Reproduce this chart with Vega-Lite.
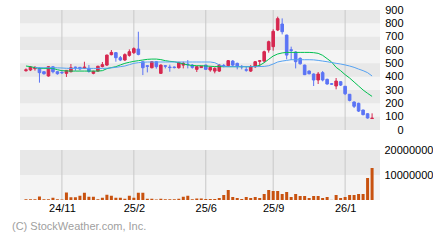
{
  "$schema": "https://vega.github.io/schema/vega-lite/v6.json",
  "background": "#ffffff",
  "padding": {"left": 12, "top": 4, "right": 0, "bottom": 0},
  "spacing": 20,
  "bounds": "flush",
  "config": {
    "view": {"stroke": null, "fill": "#f4f4f4"},
    "font": "Liberation Sans",
    "axis": {"labelFont": "Liberation Sans", "labelFontSize": 11, "labelColor": "#000000", "domain": false, "ticks": false, "tickSize": 0, "grid": false, "labelOverlap": false}
  },
  "title": {"text": "(C) StockWeather.com, Inc.", "orient": "bottom", "anchor": "start", "frame": "group", "dx": -8, "offset": 8, "fontSize": 11, "fontWeight": "normal", "color": "#a0a0a0", "font": "Liberation Sans"},
  "datasets": {
    "bandsP": [{"lo": 0, "hi": 100}, {"lo": 200, "hi": 300}, {"lo": 400, "hi": 500}, {"lo": 600, "hi": 700}, {"lo": 800, "hi": 900}],
    "bandsV": [{"lo": 10000000, "hi": 20000000}],
    "ticks": [{"d": "2024-11-01"}, {"d": "2025-02-21"}, {"d": "2025-06-13"}, {"d": "2025-09-26"}, {"d": "2026-01-16"}],
    "px": [
      {"d": "2024-09-06", "o": 445, "h": 462, "l": 437, "c": 452, "v": 300000, "m1": 480, "m2": null},
      {"d": "2024-09-13", "o": 450, "h": 480, "l": 442, "c": 472, "v": 300000, "m1": 475, "m2": null},
      {"d": "2024-09-20", "o": 460, "h": 480, "l": 445, "c": 468, "v": 300000, "m1": 468, "m2": 467},
      {"d": "2024-09-27", "o": 462, "h": 470, "l": 355, "c": 430, "v": 1400000, "m1": 463, "m2": 467},
      {"d": "2024-10-04", "o": 437, "h": 440, "l": 415, "c": 422, "v": 300000, "m1": 462, "m2": 467},
      {"d": "2024-10-11", "o": 405, "h": 478, "l": 400, "c": 475, "v": 300000, "m1": 462, "m2": 467},
      {"d": "2024-10-18", "o": 474, "h": 478, "l": 425, "c": 437, "v": 900000, "m1": 462, "m2": 467},
      {"d": "2024-10-25", "o": 437, "h": 440, "l": 415, "c": 422, "v": 300000, "m1": 452, "m2": 466},
      {"d": "2024-11-01", "o": 432, "h": 440, "l": 420, "c": 428, "v": 200000, "m1": 445, "m2": 465},
      {"d": "2024-11-08", "o": 425, "h": 450, "l": 398, "c": 447, "v": 3000000, "m1": 443, "m2": 463},
      {"d": "2024-11-15", "o": 437, "h": 495, "l": 432, "c": 467, "v": 1100000, "m1": 442, "m2": 462},
      {"d": "2024-11-22", "o": 472, "h": 475, "l": 445, "c": 468, "v": 1100000, "m1": 442, "m2": 462},
      {"d": "2024-11-29", "o": 470, "h": 472, "l": 448, "c": 458, "v": 1700000, "m1": 442, "m2": 462},
      {"d": "2024-12-06", "o": 463, "h": 512, "l": 458, "c": 472, "v": 2900000, "m1": 442, "m2": 462},
      {"d": "2024-12-13", "o": 462, "h": 487, "l": 430, "c": 440, "v": 1300000, "m1": 442, "m2": 462},
      {"d": "2024-12-20", "o": 425, "h": 445, "l": 418, "c": 440, "v": 1300000, "m1": 442, "m2": 462},
      {"d": "2024-12-27", "o": 442, "h": 482, "l": 438, "c": 478, "v": 300000, "m1": 442, "m2": 462},
      {"d": "2025-01-03", "o": 476, "h": 510, "l": 470, "c": 490, "v": 900000, "m1": 445, "m2": 462},
      {"d": "2025-01-10", "o": 487, "h": 565, "l": 480, "c": 562, "v": 2100000, "m1": 460, "m2": 463},
      {"d": "2025-01-17", "o": 565, "h": 600, "l": 560, "c": 582, "v": 1700000, "m1": 468, "m2": 466},
      {"d": "2025-01-24", "o": 580, "h": 585, "l": 512, "c": 542, "v": 900000, "m1": 475, "m2": 470},
      {"d": "2025-01-31", "o": 542, "h": 555, "l": 517, "c": 525, "v": 900000, "m1": 488, "m2": 475},
      {"d": "2025-02-07", "o": 525, "h": 575, "l": 517, "c": 565, "v": 500000, "m1": 500, "m2": 480},
      {"d": "2025-02-14", "o": 560, "h": 605, "l": 550, "c": 587, "v": 1700000, "m1": 508, "m2": 490},
      {"d": "2025-02-21", "o": 580, "h": 620, "l": 570, "c": 610, "v": 900000, "m1": 515, "m2": 500},
      {"d": "2025-02-28", "o": 607, "h": 737, "l": 560, "c": 567, "v": 2900000, "m1": 520, "m2": 505},
      {"d": "2025-03-07", "o": 512, "h": 515, "l": 412, "c": 467, "v": 2900000, "m1": 525, "m2": 508},
      {"d": "2025-03-14", "o": 482, "h": 487, "l": 432, "c": 477, "v": 500000, "m1": 530, "m2": 510},
      {"d": "2025-03-21", "o": 467, "h": 517, "l": 462, "c": 512, "v": 500000, "m1": 532, "m2": 510},
      {"d": "2025-03-28", "o": 512, "h": 517, "l": 460, "c": 475, "v": 200000, "m1": 532, "m2": 510},
      {"d": "2025-04-04", "o": 425, "h": 492, "l": 420, "c": 487, "v": 500000, "m1": 528, "m2": 510},
      {"d": "2025-04-11", "o": 482, "h": 487, "l": 462, "c": 478, "v": 300000, "m1": 520, "m2": 510},
      {"d": "2025-04-18", "o": 472, "h": 490, "l": 437, "c": 468, "v": 300000, "m1": 515, "m2": 510},
      {"d": "2025-04-25", "o": 472, "h": 477, "l": 462, "c": 468, "v": 300000, "m1": 512, "m2": 510},
      {"d": "2025-05-02", "o": 467, "h": 512, "l": 460, "c": 505, "v": 500000, "m1": 505, "m2": 510},
      {"d": "2025-05-09", "o": 487, "h": 512, "l": 462, "c": 500, "v": 1300000, "m1": 496, "m2": 510},
      {"d": "2025-05-16", "o": 494, "h": 525, "l": 462, "c": 490, "v": 1700000, "m1": 488, "m2": 510},
      {"d": "2025-05-23", "o": 487, "h": 495, "l": 460, "c": 470, "v": 300000, "m1": 484, "m2": 510},
      {"d": "2025-05-30", "o": 455, "h": 478, "l": 435, "c": 475, "v": 600000, "m1": 482, "m2": 510},
      {"d": "2025-06-06", "o": 468, "h": 480, "l": 466, "c": 478, "v": 600000, "m1": 482, "m2": 510},
      {"d": "2025-06-13", "o": 487, "h": 490, "l": 450, "c": 455, "v": 400000, "m1": 480, "m2": 510},
      {"d": "2025-06-20", "o": 450, "h": 475, "l": 437, "c": 470, "v": 400000, "m1": 478, "m2": 510},
      {"d": "2025-06-27", "o": 442, "h": 470, "l": 425, "c": 462, "v": 400000, "m1": 476, "m2": 505},
      {"d": "2025-07-04", "o": 442, "h": 495, "l": 435, "c": 487, "v": 800000, "m1": 475, "m2": 488},
      {"d": "2025-07-11", "o": 484, "h": 495, "l": 470, "c": 480, "v": 2000000, "m1": 475, "m2": 476},
      {"d": "2025-07-18", "o": 482, "h": 525, "l": 475, "c": 520, "v": 4000000, "m1": 475, "m2": 475},
      {"d": "2025-07-25", "o": 517, "h": 525, "l": 475, "c": 487, "v": 1200000, "m1": 475, "m2": 475},
      {"d": "2025-08-01", "o": 500, "h": 505, "l": 455, "c": 475, "v": 800000, "m1": 475, "m2": 475},
      {"d": "2025-08-08", "o": 477, "h": 487, "l": 455, "c": 473, "v": 400000, "m1": 475, "m2": 475},
      {"d": "2025-08-15", "o": 452, "h": 475, "l": 437, "c": 448, "v": 1200000, "m1": 475, "m2": 475},
      {"d": "2025-08-22", "o": 442, "h": 487, "l": 435, "c": 475, "v": 800000, "m1": 475, "m2": 475},
      {"d": "2025-08-29", "o": 475, "h": 517, "l": 465, "c": 512, "v": 1200000, "m1": 477, "m2": 475},
      {"d": "2025-09-05", "o": 515, "h": 525, "l": 475, "c": 520, "v": 800000, "m1": 485, "m2": 476},
      {"d": "2025-09-12", "o": 517, "h": 595, "l": 505, "c": 587, "v": 2400000, "m1": 505, "m2": 477},
      {"d": "2025-09-19", "o": 600, "h": 670, "l": 580, "c": 662, "v": 4000000, "m1": 530, "m2": 482},
      {"d": "2025-09-26", "o": 625, "h": 755, "l": 595, "c": 740, "v": 3600000, "m1": 555, "m2": 495},
      {"d": "2025-10-03", "o": 750, "h": 850, "l": 742, "c": 835, "v": 3600000, "m1": 570, "m2": 510},
      {"d": "2025-10-10", "o": 795, "h": 837, "l": 717, "c": 737, "v": 2400000, "m1": 578, "m2": 517},
      {"d": "2025-10-17", "o": 712, "h": 715, "l": 530, "c": 562, "v": 3200000, "m1": 582, "m2": 522},
      {"d": "2025-10-24", "o": 602, "h": 625, "l": 525, "c": 596, "v": 1200000, "m1": 582, "m2": 527},
      {"d": "2025-10-31", "o": 585, "h": 590, "l": 462, "c": 512, "v": 2400000, "m1": 582, "m2": 527},
      {"d": "2025-11-07", "o": 537, "h": 545, "l": 490, "c": 497, "v": 1600000, "m1": 582, "m2": 527},
      {"d": "2025-11-14", "o": 487, "h": 490, "l": 412, "c": 415, "v": 1600000, "m1": 582, "m2": 527},
      {"d": "2025-11-21", "o": 442, "h": 447, "l": 417, "c": 422, "v": 800000, "m1": 582, "m2": 527},
      {"d": "2025-11-28", "o": 420, "h": 425, "l": 330, "c": 375, "v": 1600000, "m1": 580, "m2": 526},
      {"d": "2025-12-05", "o": 375, "h": 435, "l": 345, "c": 420, "v": 1600000, "m1": 575, "m2": 522},
      {"d": "2025-12-12", "o": 430, "h": 442, "l": 365, "c": 375, "v": 800000, "m1": 560, "m2": 517},
      {"d": "2025-12-19", "o": 380, "h": 385, "l": 340, "c": 345, "v": 1200000, "m1": 535, "m2": 512},
      {"d": "2025-12-26", "o": 347, "h": 352, "l": 338, "c": 343, "v": 50000, "m1": 510, "m2": 506},
      {"d": "2026-01-02", "o": 330, "h": 390, "l": 305, "c": 367, "v": 2000000, "m1": 470, "m2": 500},
      {"d": "2026-01-09", "o": 362, "h": 365, "l": 330, "c": 337, "v": 800000, "m1": 445, "m2": 495},
      {"d": "2026-01-16", "o": 328, "h": 330, "l": 262, "c": 272, "v": 1200000, "m1": 415, "m2": 488},
      {"d": "2026-01-23", "o": 268, "h": 270, "l": 215, "c": 222, "v": 2000000, "m1": 390, "m2": 480},
      {"d": "2026-01-30", "o": 210, "h": 215, "l": 165, "c": 178, "v": 2000000, "m1": 360, "m2": 470},
      {"d": "2026-02-06", "o": 200, "h": 205, "l": 135, "c": 142, "v": 2400000, "m1": 330, "m2": 457},
      {"d": "2026-02-13", "o": 150, "h": 152, "l": 110, "c": 115, "v": 2400000, "m1": 300, "m2": 445},
      {"d": "2026-02-20", "o": 122, "h": 125, "l": 85, "c": 90, "v": 8800000, "m1": 275, "m2": 430},
      {"d": "2026-02-27", "o": 86, "h": 125, "l": 85, "c": 90, "v": 12800000, "m1": 252, "m2": 405}
    ]
  },
  "vconcat": [
    {
      "width": 360,
      "height": 120,
      "layer": [
        {
          "data": {"name": "bandsP"},
          "mark": {"type": "rect", "color": "#e8e8e8"},
          "encoding": {
            "x": {"value": 0},
            "x2": {"value": "width"},
            "y": {"field": "lo", "type": "quantitative", "scale": {"domain": [0, 900], "nice": false, "zero": false},
                  "axis": {"orient": "right", "values": [0, 100, 200, 300, 400, 500, 600, 700, 800, 900], "labelAlign": "right", "labelBaseline": "middle", "labelPadding": 23, "labelOverlap": false, "title": null}},
            "y2": {"field": "hi"}
          }
        },
        {
          "data": {"name": "ticks"},
          "mark": {"type": "rule", "color": "#c8c8c8", "strokeWidth": 1},
          "encoding": {
            "x": {"field": "d", "type": "temporal", "scale": {"type": "utc", "domain": [{"year": 2024, "month": 9, "date": 4, "hours": 11, "minutes": 40, "utc": true}, {"year": 2026, "month": 3, "date": 3, "hours": 13, "utc": true}]}, "axis": null}
          }
        },
        {
          "data": {"name": "px"},
          "mark": {"type": "rule", "strokeWidth": 1},
          "encoding": {
            "x": {"field": "d", "type": "temporal", "scale": {"type": "utc", "domain": [{"year": 2024, "month": 9, "date": 4, "hours": 11, "minutes": 40, "utc": true}, {"year": 2026, "month": 3, "date": 3, "hours": 13, "utc": true}]}, "axis": null},
            "y": {"field": "l", "type": "quantitative", "scale": {"domain": [0, 900], "nice": false, "zero": false},
                  "axis": {"orient": "right", "values": [0, 100, 200, 300, 400, 500, 600, 700, 800, 900], "labelAlign": "right", "labelBaseline": "middle", "labelPadding": 23, "labelOverlap": false, "title": null}},
            "y2": {"field": "h"},
            "color": {"condition": {"test": "datum.c >= datum.o", "value": "#d62850"}, "value": "#5b74f5"}
          }
        },
        {
          "data": {"name": "px"},
          "mark": {"type": "bar", "size": 2.6, "strokeWidth": 1},
          "encoding": {
            "x": {"field": "d", "type": "temporal", "scale": {"type": "utc", "domain": [{"year": 2024, "month": 9, "date": 4, "hours": 11, "minutes": 40, "utc": true}, {"year": 2026, "month": 3, "date": 3, "hours": 13, "utc": true}]}, "axis": null},
            "y": {"field": "o", "type": "quantitative", "scale": {"domain": [0, 900], "nice": false, "zero": false},
                  "axis": {"orient": "right", "values": [0, 100, 200, 300, 400, 500, 600, 700, 800, 900], "labelAlign": "right", "labelBaseline": "middle", "labelPadding": 23, "labelOverlap": false, "title": null}},
            "y2": {"field": "c"},
            "color": {"condition": {"test": "datum.c >= datum.o", "value": "#d62850"}, "value": "#5b74f5"},
            "stroke": {"condition": {"test": "datum.c >= datum.o", "value": "#d62850"}, "value": "#5b74f5"}
          }
        },
        {
          "data": {"name": "px"},
          "mark": {"type": "line", "color": "#00c050", "strokeWidth": 1},
          "encoding": {
            "x": {"field": "d", "type": "temporal", "scale": {"type": "utc", "domain": [{"year": 2024, "month": 9, "date": 4, "hours": 11, "minutes": 40, "utc": true}, {"year": 2026, "month": 3, "date": 3, "hours": 13, "utc": true}]}, "axis": null},
            "y": {"field": "m1", "type": "quantitative", "scale": {"domain": [0, 900], "nice": false, "zero": false},
                  "axis": {"orient": "right", "values": [0, 100, 200, 300, 400, 500, 600, 700, 800, 900], "labelAlign": "right", "labelBaseline": "middle", "labelPadding": 23, "labelOverlap": false, "title": null}}
          }
        },
        {
          "data": {"name": "px"},
          "mark": {"type": "line", "color": "#55a2f2", "strokeWidth": 1},
          "encoding": {
            "x": {"field": "d", "type": "temporal", "scale": {"type": "utc", "domain": [{"year": 2024, "month": 9, "date": 4, "hours": 11, "minutes": 40, "utc": true}, {"year": 2026, "month": 3, "date": 3, "hours": 13, "utc": true}]}, "axis": null},
            "y": {"field": "m2", "type": "quantitative", "scale": {"domain": [0, 900], "nice": false, "zero": false},
                  "axis": {"orient": "right", "values": [0, 100, 200, 300, 400, 500, 600, 700, 800, 900], "labelAlign": "right", "labelBaseline": "middle", "labelPadding": 23, "labelOverlap": false, "title": null}}
          }
        }
      ]
    },
    {
      "width": 360,
      "height": 50,
      "layer": [
        {
          "data": {"name": "bandsV"},
          "mark": {"type": "rect", "color": "#e8e8e8"},
          "encoding": {
            "x": {"value": 0},
            "x2": {"value": "width"},
            "y": {"field": "lo", "type": "quantitative", "scale": {"domain": [0, 20000000], "nice": false, "zero": false},
                  "axis": {"orient": "right", "values": [10000000, 20000000], "format": "d", "labelAlign": "left", "labelBaseline": "middle", "labelPadding": 4, "labelOverlap": false, "title": null}},
            "y2": {"field": "hi"}
          }
        },
        {
          "data": {"name": "ticks"},
          "mark": {"type": "rule", "color": "#c8c8c8", "strokeWidth": 1},
          "encoding": {
            "x": {"field": "d", "type": "temporal", "scale": {"type": "utc", "domain": [{"year": 2024, "month": 9, "date": 4, "hours": 11, "minutes": 40, "utc": true}, {"year": 2026, "month": 3, "date": 3, "hours": 13, "utc": true}]},
                  "axis": {"values": [{"year": 2024, "month": 11, "date": 1, "utc": true}, {"year": 2025, "month": 2, "date": 21, "utc": true}, {"year": 2025, "month": 6, "date": 13, "utc": true}, {"year": 2025, "month": 9, "date": 26, "utc": true}, {"year": 2026, "month": 1, "date": 16, "utc": true}], "labelExpr": "utcFormat(datum.value, '%y/%-m')", "labelPadding": 2, "labelAlign": "center", "labelOverlap": false, "title": null}}
          }
        },
        {
          "data": {"name": "px"},
          "mark": {"type": "bar", "color": "#c8520f", "size": 3},
          "encoding": {
            "x": {"field": "d", "type": "temporal", "scale": {"type": "utc", "domain": [{"year": 2024, "month": 9, "date": 4, "hours": 11, "minutes": 40, "utc": true}, {"year": 2026, "month": 3, "date": 3, "hours": 13, "utc": true}]},
                  "axis": {"values": [{"year": 2024, "month": 11, "date": 1, "utc": true}, {"year": 2025, "month": 2, "date": 21, "utc": true}, {"year": 2025, "month": 6, "date": 13, "utc": true}, {"year": 2025, "month": 9, "date": 26, "utc": true}, {"year": 2026, "month": 1, "date": 16, "utc": true}], "labelExpr": "utcFormat(datum.value, '%y/%-m')", "labelPadding": 2, "labelAlign": "center", "labelOverlap": false, "title": null}},
            "y": {"field": "v", "type": "quantitative", "scale": {"domain": [0, 20000000], "nice": false, "zero": false},
                  "axis": {"orient": "right", "values": [10000000, 20000000], "format": "d", "labelAlign": "left", "labelBaseline": "middle", "labelPadding": 4, "labelOverlap": false, "title": null}}
          }
        }
      ]
    }
  ]
}
